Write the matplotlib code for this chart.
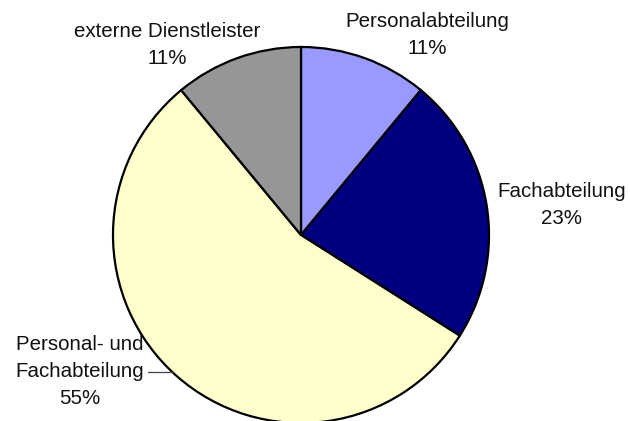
import matplotlib.pyplot as plt

labels = ['Personalabteilung', 'Fachabteilung', 'Personal- und\nFachabteilung', 'externe Dienstleister']
values = [11, 23, 55, 11]
colors = ['#9999FF', '#000080', '#FFFFCC', '#969696']

plt.rcParams['font.family'] = ['Liberation Sans', 'DejaVu Sans']

fig = plt.figure(figsize=(6.3, 4.21), dpi=100)
ax = fig.add_axes([0, 0, 1, 1])

# pie in pixel coords (y axis flipped, so go counterclock to end up clockwise)
cx, cy, r = 301, 235, 188
ax.pie(values, colors=colors, startangle=-90, counterclock=True,
       center=(cx, cy), radius=r, frame=True,
       wedgeprops=dict(edgecolor='black', linewidth=1.6))
ax.set_xlim(0, 630)
ax.set_ylim(421, 0)
ax.set_aspect('equal')
ax.axis('off')

# label anchor points (center x, first baseline y)
label_pos = [(427, 27), (562, 197), (80, 350), (167, 37)]
line_h = 27
for lab, v, (x, y) in zip(labels, values, label_pos):
    lines = lab.split('\n') + [f'{v}%']
    for i, t in enumerate(lines):
        ax.text(x, y + i * line_h, t, ha='center', va='baseline',
                fontsize=14.8, color='#111111')

# leader line for the big slice
ax.plot([148, 173], [372, 372], color='#444444', linewidth=0.9)

plt.savefig('out.png', dpi=100)
